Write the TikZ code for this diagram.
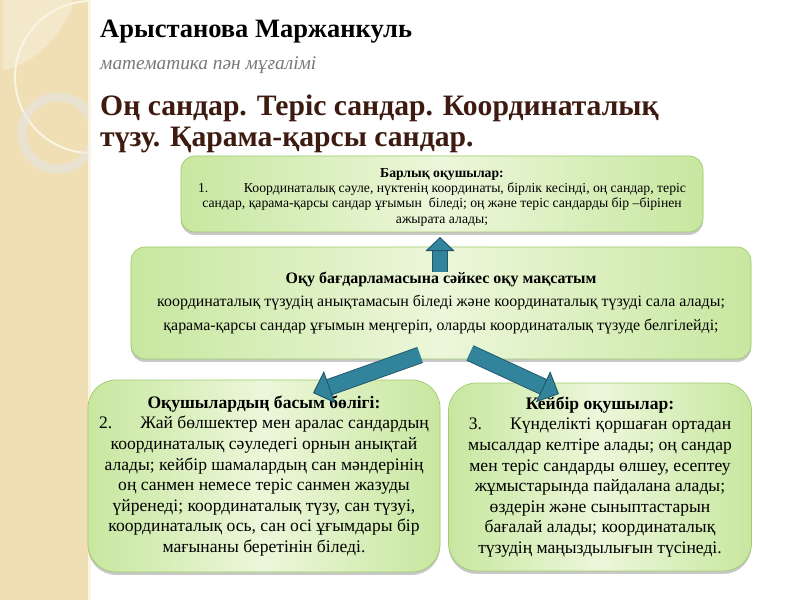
\documentclass[tikz,border=0pt]{standalone}
\usepackage{fontspec}
\setmainfont{Liberation Serif}
\usepackage{tikz}
\usetikzlibrary{arrows.meta, shadows, calc}
\usepackage{xcolor}
\definecolor{stripebeige}{RGB}{240, 223, 180}
\definecolor{stripeedge}{RGB}{250, 244, 228}
\definecolor{titlebrown}{RGB}{62, 27, 16}
\definecolor{subgray}{RGB}{120, 120, 120}
\definecolor{boxlight}{RGB}{236, 247, 218}
\definecolor{boxgreen}{RGB}{200, 231, 160}
\definecolor{boxedge}{RGB}{160, 203, 110}
\definecolor{arrowblue}{RGB}{49, 132, 155}
\definecolor{arrowdark}{RGB}{33, 89, 104}

\begin{document}
\begin{tikzpicture}[x=0.3mm, y=-0.3mm,
  goalbox/.style={draw=boxedge, line width=0.6pt, align=center, inner sep=0pt,
    left color=boxgreen, right color=boxgreen, middle color=boxlight,
    drop shadow={shadow xshift=0pt, shadow yshift=-2.5pt, opacity=0.3, fill=black!70}},
  blockarrow/.style={line width=12pt, arrowblue,
    -{Triangle[width=25pt, length=12pt, line width=0.8pt, color=arrowdark, fill=arrowblue]},
    preaction={draw=arrowdark, line width=13.6pt, -, shorten >=11pt}},
  bigarrow/.style={line width=12.8pt, arrowblue,
    -{Triangle[width=29pt, length=15pt, line width=0.8pt, color=arrowdark, fill=arrowblue]},
    preaction={draw=arrowdark, line width=14.4pt, -, shorten >=14pt}}]

  % page and left stripe
  \useasboundingbox (0,0) rectangle (800,600);
  \fill[white] (0,0) rectangle (800,600);
  \fill[stripebeige] (0,0) rectangle (88,600);
  \fill[stripeedge] (88,0) rectangle (91,600);
  \begin{scope}
    \clip (0,0) rectangle (88,600);
    \fill[white, opacity=0.3] (3,0) -- (72,0) -- (72,8) .. controls (55,45) and (30,65) .. (3,70) -- cycle;
    \draw[stripeedge, line width=0.6mm] (91,77) circle (76);
    \draw[white!80!gray, opacity=0.6, line width=2.7mm] (58,133) circle (36);
  \end{scope}

  % header
  \node[anchor=base west, inner sep=0pt, font=\fontsize{22.6}{26}\selectfont\bfseries] (author) at (100,38) {Арыстанова Маржанкуль};
  \node[anchor=base west, inner sep=0pt, subgray, font=\fontsize{16.5}{19}\selectfont\itshape] (subject) at (100,70) {математика пән мұғалімі};
  \node[anchor=base west, inner sep=0pt, titlebrown, align=left, font=\fontsize{25.3}{27.2}\selectfont\bfseries] (topic) at (100,147)
    {Оң сандар. Теріс сандар. Координаталық\\түзу. Қарама-қарсы сандар.};

  % goal boxes
  \node[goalbox, rounded corners=4.2mm, minimum width=156.6mm, minimum height=22.8mm,
    font=\fontsize{11.7}{13}\selectfont] (allpupils) at (442,194)
    {\rule{0pt}{13pt}\textbf{Барлық оқушылар:}\\
     1.\hspace{2.6em}Координаталық сәуле, нүктенің координаты, бірлік кесінді, оң сандар, теріс\\
     сандар, қарама-қарсы сандар ұғымын\ \ біледі; оң және теріс сандарды бір –бірінен\\
     ажырата алады;};
  \node[goalbox, rounded corners=4.2mm, minimum width=186mm, minimum height=33.6mm,
    font=\fontsize{13.6}{20.4}\selectfont] (goal) at (441,303)
    {\textbf{Оқу бағдарламасына сәйкес оқу мақсатым}\\
     координаталық түзудің анықтамасын біледі және координаталық түзуді сала алады;\\
     қарама-қарсы сандар ұғымын меңгеріп, оларды координаталық түзуде белгілейді;};
  \node[goalbox, rounded corners=8.4mm, minimum width=105.6mm, minimum height=57.6mm,
    font=\fontsize{15}{17.6}\selectfont] (most) at (264,476)
    {\textbf{Оқушылардың басым бөлігі:}\\
     2.\hspace{1.6em}Жай бөлшектер мен аралас сандардың\\
     координаталық сәуледегі орнын анықтай\\
     алады; кейбір шамалардың сан мәндерінің\\
     оң санмен немесе теріс санмен жазуды\\
     үйренеді; координаталық түзу, сан түзуі,\\
     координаталық ось, сан осі ұғымдары бір\\
     мағынаны беретінін біледі.};
  \node[goalbox, rounded corners=8.4mm, minimum width=90.9mm, minimum height=56.4mm,
    font=\fontsize{15}{17.6}\selectfont] (some) at (600,477)
    {\textbf{Кейбір оқушылар:}\\
     3.\hspace{1.6em}Күнделікті қоршаған ортадан\\
     мысалдар келтіре алады; оң сандар\\
     мен теріс сандарды өлшеу, есептеу\\
     жұмыстарында пайдалана алады;\\
     өздерін және сыныптастарын\\
     бағалай алады; координаталық\\
     түзудің маңыздылығын түсінеді.};

  % arrows
  \coordinate (upTail) at (440,272);
  \coordinate (upTip) at (440,237);
  \coordinate (leftTail) at (420,355);
  \coordinate (leftTip) at (313,393);
  \coordinate (rightTail) at (470,353);
  \coordinate (rightTip) at (559,394);
  \draw[blockarrow] (upTail) -- (upTip);
  \draw[bigarrow] (leftTail) -- (leftTip);
  \draw[bigarrow] (rightTail) -- (rightTip);

\end{tikzpicture}
\end{document}
